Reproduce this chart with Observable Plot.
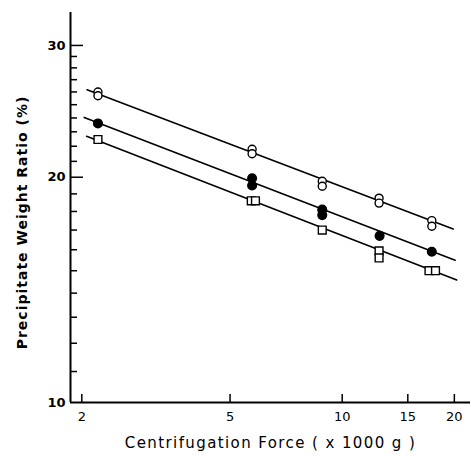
<!DOCTYPE html>
<html>
<head>
<meta charset="utf-8">
<script src="https://cdn.jsdelivr.net/npm/d3@7"></script>
<script src="https://cdn.jsdelivr.net/npm/@observablehq/plot@0.6"></script>
<style>
  body { margin: 0; background: #fff; }
  #chart { position: relative; width: 471px; height: 456px; }
  #chart svg { display: block; }
  #chart .overlay { position: absolute; left: 0; top: 0; }
</style>
</head>
<body>
<div id="chart"></div>
<script>
// Centrifugation force (x1000 g) and precipitate weight ratio (%)
const openX   = [2.21, 2.21, 5.73, 5.73, 8.84, 8.84, 12.56, 12.56, 17.4, 17.4];
const openY   = [26.0, 25.7, 21.8, 21.5, 19.75, 19.45, 18.75, 18.47, 17.5, 17.2];
const filledX = [2.21, 5.73, 5.73, 8.84, 8.84, 12.6, 17.4];
const filledY = [23.6, 19.94, 19.5, 18.1, 17.8, 16.7, 15.9];
const squareX = [2.21, 5.7, 5.85, 8.84, 12.56, 12.56, 17.1, 17.8];
const squareY = [22.46, 18.6, 18.6, 17.0, 15.94, 15.6, 15.0, 15.0];

// fitted line end points
const openFitX   = [2.066, 19.86];
const openFitY   = [26.18, 17.05];
const filledFitX = [2.03, 20.1];
const filledFitY = [24.04, 15.49];
const squareFitX = [2.06, 20.3];
const squareFitY = [22.69, 14.58];

const xTicks = [2, 5, 10, 15, 20];
const yMajor = [20, 30];
const yMinor = [11, 12, 13, 14, 15, 16, 17, 18, 19, 21, 22, 23, 24, 25, 26, 27, 28, 29];
const yLabels = [10, 20, 30];
const xDomain = [1.865, 22.1];
const yDomain = [10, 33.2];

const xTitle = "Centrifugation Force ( x 1000 g )";
const yTitle = "Precipitate Weight Ratio (%)";

const W = 471, H = 456, mL = 70, mR = 1, mT = 12, mB = 54;
const frameW = W - mL - mR, frameH = H - mT - mB;

const pts = (xs, ys) => xs.map((x, i) => ({x, y: ys[i]}));

const common = {
  width: W, height: H,
  marginLeft: mL, marginRight: mR, marginTop: mT, marginBottom: mB,
  x: {type: "log", domain: xDomain},
  y: {type: "log", domain: yDomain}
};

// layer 1: data (lines, points) and titles
const dataChart = Plot.plot({
  ...common,
  style: {fontFamily: "DejaVu Sans, sans-serif", fontSize: "13px", color: "#000", background: "#fff"},
  x: {...common.x, axis: null},
  y: {...common.y, axis: null},
  marks: [
    Plot.line(pts(openFitX, openFitY), {x: "x", y: "y", stroke: "#000", strokeWidth: 1.6}),
    Plot.line(pts(filledFitX, filledFitY), {x: "x", y: "y", stroke: "#000", strokeWidth: 1.6}),
    Plot.line(pts(squareFitX, squareFitY), {x: "x", y: "y", stroke: "#000", strokeWidth: 1.6}),
    Plot.dot(pts(openX, openY), {x: "x", y: "y", r: 4, fill: "#fff", stroke: "#000", strokeWidth: 1.4}),
    Plot.dot(pts(filledX, filledY), {x: "x", y: "y", r: 4.3, fill: "#000", stroke: "#000"}),
    Plot.dot(pts(squareX, squareY), {x: "x", y: "y", symbol: "square", r: 4.4, fill: "#fff", stroke: "#000", strokeWidth: 1.4}),
    Plot.text([xTitle], {frameAnchor: "bottom", dy: 45, text: d => d, fontSize: 15, fill: "#000", textAnchor: "middle"}),
    Plot.text([yTitle], {frameAnchor: "left", dx: -48, dy: 15, rotate: -90, text: d => d, fontSize: 14, fontWeight: "bold", fill: "#000", textAnchor: "middle"})
  ]
});
d3.select(dataChart).selectAll("text").filter(function() { return this.textContent === xTitle; })
  .style("letter-spacing", "1.4px");
d3.select(dataChart).selectAll("text").filter(function() { return this.textContent === yTitle; })
  .style("letter-spacing", "1px");

// layer 2: axes, inward ticks and tick labels (transparent, on top)
const axisChart = Plot.plot({
  ...common,
  style: {fontFamily: "DejaVu Sans, sans-serif", fontSize: "13px", color: "#000"},
  marks: [
    Plot.ruleX([xDomain[0]], {stroke: "#000", strokeWidth: 2}),
    Plot.ruleY([yDomain[0]], {stroke: "#000", strokeWidth: 1.8}),
    Plot.ruleY(yMinor, {y: d => d, stroke: "#000", strokeWidth: 1.5, insetRight: frameW - 7}),
    Plot.ruleY(yMajor, {y: d => d, stroke: "#000", strokeWidth: 1.5, insetRight: frameW - 13}),
    Plot.axisY({ticks: yLabels, tickSize: 0, tickPadding: 5, label: null, fontSize: 13, fontWeight: "bold"}),
    Plot.ruleX(xTicks, {x: d => d, stroke: "#000", strokeWidth: 1.5, insetTop: frameH - 8}),
    Plot.axisX({ticks: xTicks, tickSize: 0, tickPadding: 9, tickFormat: d => String(d), label: null, fontSize: 13})
  ]
});
axisChart.classList.add("overlay");

const host = document.getElementById("chart");
host.appendChild(dataChart);
host.appendChild(axisChart);
</script>
</body>
</html>
